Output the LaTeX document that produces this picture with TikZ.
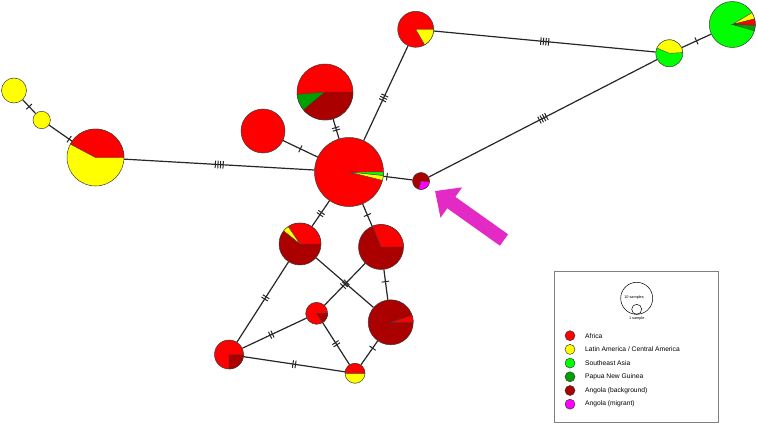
\documentclass[tikz,border=0pt]{standalone}
\usepackage{fontspec}
\setmainfont{Liberation Sans}
\usetikzlibrary{arrows.meta,decorations.markings}
\definecolor{afr}{RGB}{255,0,0}
\definecolor{lat}{RGB}{255,255,0}
\definecolor{sea}{RGB}{0,255,0}
\definecolor{png}{RGB}{0,160,0}
\definecolor{ang}{RGB}{170,0,0}
\definecolor{mig}{RGB}{255,0,255}
\definecolor{pointer}{RGB}{228,42,196}
\definecolor{rim}{RGB}{60,60,60}
\tikzset{
  hap/.style={circle,draw=rim,line width=0.5pt,inner sep=0pt,minimum size=#1},
  part/.style={draw=rim,line width=0.4pt},
  link/.style={line width=1.2pt,draw=black!85},
  hash/.style 2 args={postaction={decorate,decoration={markings,
    mark=at position #1 with {\foreach \k in {1,...,#2}
      {\draw[line width=1pt,black!85] ({(\k-(#2+1)/2)*2.6pt},-3.8pt) -- ({(\k-(#2+1)/2)*2.6pt},3.8pt);}}}}},
  legtext/.style={anchor=west,font=\fontsize{6.7}{7}\selectfont,inner sep=0pt},
  tiny/.style={font=\fontsize{3.8}{4}\selectfont,inner sep=0pt}
}
\newcommand{\piepart}[5]{\filldraw[part,fill=#5] (#1.center) -- ++(#3:#2pt) arc[start angle=#3,end angle=#4,radius=#2pt] -- cycle;}
\begin{document}
\begin{tikzpicture}[x=1pt,y=1pt]
\useasboundingbox (0,0) rectangle (757,424);
\node[hap=69pt,fill=afr] (A) at (349,252) {};
\node[hap=17pt,fill=ang] (B) at (421,243) {};
\node[hap=44pt,fill=afr] (D) at (263,293) {};
\node[hap=56pt,fill=afr] (E) at (325,332) {};
\node[hap=36pt,fill=afr] (F) at (415.7,394.7) {};
\node[hap=27pt,fill=sea] (G) at (669.3,370.7) {};
\node[hap=46pt,fill=sea] (H) at (732.3,399.5) {};
\node[hap=57pt,fill=lat] (I) at (95.5,266.5) {};
\node[hap=17.4pt,fill=lat] (J) at (41.7,304) {};
\node[hap=25pt,fill=lat] (K) at (14,333.5) {};
\node[hap=42pt,fill=ang] (L) at (300,180) {};
\node[hap=45pt,fill=ang] (M) at (381,177) {};
\node[hap=45pt,fill=ang] (N) at (390.7,101.7) {};
\node[hap=22pt,fill=afr] (O) at (316.7,110.7) {};
\node[hap=29pt,fill=afr] (P) at (229,69.5) {};
\node[hap=20pt,fill=lat] (Q) at (355,50.7) {};

\draw[link,hash={0.5}{1}] (K) -- (J);
\draw[link,hash={0.88}{1}] (J) -- (I);
\draw[link,hash={0.5}{4}] (I) -- (A);
\draw[link,hash={0.5}{1}] (D) -- (A);
\draw[link,hash={0.5}{2}] (E) -- (A);
\draw[link,hash={0.55}{3}] (F) -- (A);
\draw[link,hash={0.5}{4}] (F) -- (G);
\draw[link,hash={0.5}{1}] (G) -- (H);
\draw[link,hash={0.5}{4}] (G) -- (B);
\draw[link,hash={0.12}{1}] (A) -- (B);
\draw[link,hash={0.5}{2}] (A) -- (L);
\draw[link,hash={0.5}{1}] (A) -- (M);
\draw[link,hash={0.45}{2}] (L) -- (P);
\draw[link] (L) -- (N);
\draw[link,hash={0.5}{3}] (M) -- (O);
\draw[link,hash={0.4}{1}] (M) -- (N);
\draw[link,hash={0.55}{2}] (O) -- (P);
\draw[link,hash={0.5}{2}] (O) -- (Q);
\draw[link,hash={0.5}{2}] (P) -- (Q);
\draw[link,hash={0.3}{1}] (N) -- (Q);

\piepart{A}{34.5}{-6}{0}{sea}
\piepart{A}{34.5}{-14}{-6}{lat}
\piepart{B}{8.5}{-106}{-5}{mig}
\piepart{E}{28}{185}{220}{png}
\piepart{E}{28}{220}{360}{ang}
\piepart{F}{18}{-60}{0}{lat}
\piepart{G}{13.5}{3}{157}{lat}
\piepart{H}{23}{14}{31}{lat}
\piepart{H}{23}{-2}{14}{afr}
\piepart{H}{23}{-16}{-2}{png}
\piepart{I}{28.5}{0}{152}{afr}
\piepart{L}{21}{0}{124}{afr}
\piepart{L}{21}{124}{141}{lat}
\piepart{M}{22.5}{0}{112}{afr}
\piepart{N}{22.5}{0}{18}{afr}
\piepart{O}{11}{-58}{0}{ang}
\piepart{P}{14.5}{-90}{0}{ang}
\piepart{Q}{10}{0}{180}{afr}

\coordinate (tail) at (504,184);
\coordinate (tip) at (435,233);
\draw[pointer,line width=14pt,-{Triangle[length=20pt,width=36pt]}] (tail) -- (tip);

\draw[gray,line width=0.8pt] (554,2) rectangle (718,153);
\node[circle,draw=black,line width=0.5pt,minimum size=32pt,inner sep=0pt] (ten) at (636.7,125.7) {};
\node[circle,draw=black,line width=0.5pt,minimum size=10pt,inner sep=0pt] (one) at (636.7,114.7) {};
\node[tiny] (tenlbl) at (634,126.5) {10 samples};
\node[tiny] (onelbl) at (636.7,105.5) {1 sample};
\foreach \c/\t [count=\i] in {afr/Africa,lat/{Latin America / Central America},sea/Southeast Asia,png/Papua New Guinea,ang/Angola (background),mig/Angola (migrant)}
{
  \node[hap=10pt,fill=\c] (dot\i) at (570,{102-13.7*\i}) {};
  \node[legtext] (txt\i) at (585,{102-13.7*\i}) {\t};
}
\end{tikzpicture}
\end{document}
